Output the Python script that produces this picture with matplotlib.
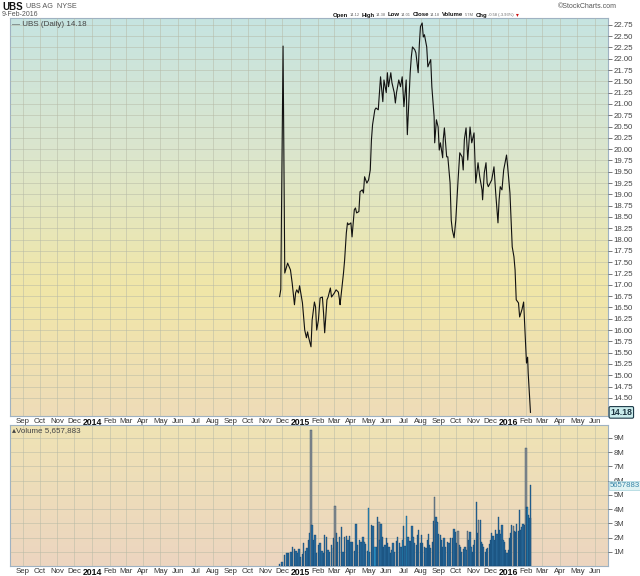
import numpy as np
import pandas as pd
import matplotlib
matplotlib.use("Agg")
import matplotlib.pyplot as plt
from matplotlib.colors import LinearSegmentedColormap
from matplotlib.transforms import blended_transform_factory

plt.rcParams['font.family'] = ['Liberation Sans', 'DejaVu Sans']

# ---------------- data ----------------
price_dates = [
    "2014-11-26", "2014-11-28", "2014-12-02", "2014-12-05", "2014-12-10", "2014-12-15", "2014-12-18",
    "2014-12-22", "2014-12-24", "2014-12-26", "2014-12-29", "2014-12-31", "2015-01-05", "2015-01-07",
    "2015-01-09", "2015-01-12", "2015-01-14", "2015-01-16", "2015-01-20", "2015-01-22", "2015-01-26",
    "2015-01-28", "2015-01-30", "2015-02-02", "2015-02-05", "2015-02-09", "2015-02-11", "2015-02-13",
    "2015-02-17", "2015-02-19", "2015-02-23", "2015-02-25", "2015-03-02", "2015-03-05", "2015-03-09",
    "2015-03-11", "2015-03-12", "2015-03-16", "2015-03-18", "2015-03-20", "2015-03-23", "2015-03-25",
    "2015-03-27", "2015-03-31", "2015-04-02", "2015-04-06", "2015-04-08", "2015-04-10", "2015-04-14",
    "2015-04-16", "2015-04-20", "2015-04-22", "2015-04-24", "2015-04-28", "2015-05-01", "2015-05-04",
    "2015-05-06", "2015-05-08", "2015-05-12", "2015-05-14", "2015-05-18", "2015-05-22", "2015-05-26",
    "2015-05-28", "2015-06-01", "2015-06-03", "2015-06-05", "2015-06-09", "2015-06-11", "2015-06-15",
    "2015-06-17", "2015-06-19", "2015-06-23", "2015-06-26", "2015-06-29", "2015-07-02", "2015-07-06",
    "2015-07-07", "2015-07-08", "2015-07-13", "2015-07-15", "2015-07-17", "2015-07-21", "2015-07-23",
    "2015-07-27", "2015-07-29", "2015-07-31", "2015-08-03", "2015-08-05", "2015-08-07", "2015-08-11",
    "2015-08-13", "2015-08-18", "2015-08-20", "2015-08-24", "2015-08-25", "2015-08-28", "2015-08-31",
    "2015-09-02", "2015-09-04", "2015-09-08", "2015-09-09", "2015-09-11", "2015-09-15", "2015-09-17",
    "2015-09-21", "2015-09-23", "2015-09-25", "2015-09-28", "2015-10-01", "2015-10-05", "2015-10-08",
    "2015-10-12", "2015-10-14", "2015-10-16", "2015-10-19", "2015-10-22", "2015-10-26", "2015-10-29",
    "2015-11-02", "2015-11-05", "2015-11-09", "2015-11-12", "2015-11-16", "2015-11-17", "2015-11-20",
    "2015-11-23", "2015-11-25", "2015-11-27", "2015-12-03", "2015-12-07", "2015-12-10", "2015-12-14",
    "2015-12-16", "2015-12-18", "2015-12-21", "2015-12-24", "2015-12-29", "2015-12-31", "2016-01-04",
    "2016-01-06", "2016-01-08", "2016-01-11", "2016-01-13", "2016-01-15", "2016-01-19", "2016-01-21",
    "2016-01-25", "2016-01-28", "2016-02-02", "2016-02-04", "2016-02-05", "2016-02-09",
]
price_close = [
    16.74, 16.90, 22.28, 17.26, 17.48, 17.33, 17.04,
    16.56, 16.82, 16.89, 16.82, 16.98, 16.60, 16.29,
    16.00, 15.83, 15.96, 15.83, 15.63, 16.22, 16.62,
    16.51, 16.00, 16.22, 16.71, 16.73, 16.38, 15.94,
    16.67, 16.73, 16.93, 16.73, 16.82, 16.89, 16.84,
    16.67, 16.56, 17.04, 17.26, 17.55, 18.15, 18.37,
    18.33, 18.37, 18.06, 18.66, 18.70, 18.59, 18.62,
    19.06, 19.10, 19.03, 19.39, 19.25, 19.32, 19.54,
    20.20, 20.54, 20.87, 20.91, 20.87, 21.60, 21.05,
    21.53, 21.25, 21.69, 21.38, 21.69, 21.47, 21.25,
    21.02, 21.25, 21.53, 21.38, 21.60, 20.94, 21.53,
    20.80, 20.32, 21.69, 22.04, 22.26, 22.20, 22.13,
    21.69, 22.30, 22.71, 22.79, 22.48, 22.53, 22.26,
    21.82, 21.98, 21.38, 20.71, 20.14, 20.65, 20.49,
    19.98, 20.14, 19.81, 20.21, 20.47, 19.83, 19.83,
    19.25, 18.43, 18.21, 18.04, 18.43, 19.32, 19.92,
    19.83, 19.54, 20.21, 20.47, 19.76, 20.49, 20.14,
    20.36, 19.25, 19.70, 19.39, 19.10, 18.88, 19.48,
    19.70, 19.25, 19.17, 19.32, 19.61, 19.03, 18.37,
    18.88, 19.17, 19.10, 19.54, 19.87, 19.61, 19.03,
    18.43, 17.84, 17.62, 17.33, 16.67, 16.60, 16.29,
    16.45, 16.62, 15.27, 15.40, 15.05, 14.18,
]

vol_dates = [
    "2014-11-26", "2014-11-30", "2014-12-05", "2014-12-09", "2014-12-12", "2014-12-16", "2014-12-19",
    "2014-12-22", "2014-12-25", "2014-12-28", "2014-12-30", "2015-01-02", "2015-01-05", "2015-01-07",
    "2015-01-10", "2015-01-13", "2015-01-16", "2015-01-18", "2015-01-20", "2015-01-22", "2015-01-24",
    "2015-01-27", "2015-01-30", "2015-02-02", "2015-02-05", "2015-02-08", "2015-02-11", "2015-02-13",
    "2015-02-16", "2015-02-19", "2015-02-22", "2015-02-25", "2015-02-28", "2015-03-01", "2015-03-03",
    "2015-03-06", "2015-03-08", "2015-03-11", "2015-03-14", "2015-03-17", "2015-03-20", "2015-03-23",
    "2015-03-26", "2015-03-29", "2015-03-31", "2015-04-03", "2015-04-06", "2015-04-09", "2015-04-12",
    "2015-04-15", "2015-04-18", "2015-04-21", "2015-04-23", "2015-04-26", "2015-04-29", "2015-05-01",
    "2015-05-03", "2015-05-06", "2015-05-09", "2015-05-12", "2015-05-15", "2015-05-17", "2015-05-19",
    "2015-05-21", "2015-05-23", "2015-05-25", "2015-05-27", "2015-05-30", "2015-06-01", "2015-06-03",
    "2015-06-06", "2015-06-08", "2015-06-11", "2015-06-13", "2015-06-16", "2015-06-19", "2015-06-21",
    "2015-06-24", "2015-06-27", "2015-06-29", "2015-07-01", "2015-07-04", "2015-07-06", "2015-07-09",
    "2015-07-11", "2015-07-13", "2015-07-16", "2015-07-18", "2015-07-21", "2015-07-24", "2015-07-26",
    "2015-07-28", "2015-07-31", "2015-08-02", "2015-08-04", "2015-08-07", "2015-08-10", "2015-08-12",
    "2015-08-14", "2015-08-16", "2015-08-18", "2015-08-21", "2015-08-23", "2015-08-25", "2015-08-27",
    "2015-08-29", "2015-09-01", "2015-09-04", "2015-09-06", "2015-09-08", "2015-09-10", "2015-09-13",
    "2015-09-16", "2015-09-19", "2015-09-22", "2015-09-25", "2015-09-28", "2015-09-30", "2015-10-02",
    "2015-10-05", "2015-10-07", "2015-10-09", "2015-10-11", "2015-10-14", "2015-10-17", "2015-10-19",
    "2015-10-22", "2015-10-24", "2015-10-26", "2015-10-28", "2015-10-30", "2015-11-01", "2015-11-03",
    "2015-11-06", "2015-11-08", "2015-11-10", "2015-11-13", "2015-11-15", "2015-11-17", "2015-11-19",
    "2015-11-22", "2015-11-24", "2015-11-26", "2015-11-29", "2015-12-01", "2015-12-03", "2015-12-05",
    "2015-12-08", "2015-12-10", "2015-12-12", "2015-12-15", "2015-12-17", "2015-12-19", "2015-12-21",
    "2015-12-23", "2015-12-25", "2015-12-27", "2015-12-30", "2016-01-01", "2016-01-03", "2016-01-05",
    "2016-01-07", "2016-01-10", "2016-01-12", "2016-01-14", "2016-01-16", "2016-01-19", "2016-01-21",
    "2016-01-23", "2016-01-25", "2016-01-27", "2016-01-29", "2016-02-01", "2016-02-02", "2016-02-04",
    "2016-02-05", "2016-02-08", "2016-02-09",
]
vol_millions = [
    0.12, 0.25, 0.77, 0.88, 0.88, 1.00, 1.30,
    1.16, 1.07, 0.93, 1.16, 0.60, 0.83, 1.60,
    1.07, 1.23, 1.82, 2.30, 9.52, 2.88, 1.82,
    2.17, 0.88, 1.47, 1.60, 1.07, 0.93, 2.17,
    2.06, 1.11, 1.00, 1.47, 1.94, 1.23, 4.24,
    2.34, 1.70, 2.06, 2.76, 1.00, 2.06, 2.10,
    1.82, 2.10, 1.70, 1.70, 1.07, 2.93, 1.47,
    1.82, 1.70, 2.06, 1.70, 1.55, 1.07, 4.05,
    1.00, 2.88, 2.81, 1.34, 1.34, 3.42, 3.12,
    1.82, 2.95, 2.06, 1.34, 1.47, 1.94, 1.60,
    1.34, 0.88, 1.11, 1.63, 1.00, 1.77, 2.06,
    1.60, 1.30, 1.82, 2.81, 1.39, 3.50, 2.06,
    1.77, 1.77, 2.81, 2.06, 1.60, 1.47, 2.17,
    2.51, 1.63, 2.17, 1.60, 1.30, 1.23, 1.82,
    2.23, 1.47, 1.23, 1.70, 3.17, 4.83, 3.42,
    3.12, 2.23, 2.17, 1.82, 1.30, 1.94, 1.34,
    1.70, 1.60, 2.00, 2.00, 2.60, 2.39, 1.60,
    2.48, 1.47, 1.30, 1.00, 1.16, 1.30, 1.11,
    2.48, 1.82, 2.39, 1.34, 1.00, 1.47, 1.82,
    4.52, 2.34, 3.26, 3.26, 1.70, 1.55, 1.34,
    1.00, 1.16, 1.23, 1.55, 1.82, 2.34, 2.10,
    1.82, 2.55, 2.23, 3.42, 2.51, 2.23, 2.88,
    1.82, 1.70, 1.11, 0.93, 1.11, 1.94, 2.34,
    2.88, 2.81, 2.48, 2.39, 2.95, 2.48, 3.92,
    2.51, 2.76, 2.93, 2.88, 8.28, 4.17, 4.17,
    3.59, 3.35, 5.66,
]

price_ticks = [14.50, 14.75, 15.00, 15.25, 15.50, 15.75, 16.00, 16.25, 16.50, 16.75, 17.00,
               17.25, 17.50, 17.75, 18.00, 18.25, 18.50, 18.75, 19.00, 19.25, 19.50, 19.75,
               20.00, 20.25, 20.50, 20.75, 21.00, 21.25, 21.50, 21.75, 22.00, 22.25, 22.50, 22.75]
vol_ticks_m = [1, 2, 3, 4, 5, 6, 7, 8, 9]
vol_tick_labels = ["1M", "2M", "3M", "4M", "5M", "6M", "7M", "8M", "9M"]

last_close = 14.18
last_volume = 5657883

header_items = [("Open", "14.12"), ("High", "14.38"), ("Low", "14.01"), ("Close", "14.18"),
                ("Volume", "5.7M"), ("Chg", "-0.58 (-3.93%)")]

# style: bars drawn in grey / light blue
GRAY_BAR_DATES = {"2015-01-20", "2015-03-03", "2015-05-19", "2015-08-25", "2015-10-05",
                  "2015-10-22", "2015-11-10", "2016-01-10", "2016-02-01"}
LIGHT_BAR_DATES = {"2015-05-01", "2015-07-06", "2015-05-12", "2016-02-04", "2015-06-29"}

# ---------------- figure ----------------
W, H = 640, 576
fig = plt.figure(figsize=(W / 100, H / 100), dpi=100)
fig.patch.set_facecolor("white")


def px_rect(x0, y0, x1, y1):
    return [x0 / W, 1 - y1 / H, (x1 - x0) / W, (y1 - y0) / H]


axp = fig.add_axes(px_rect(10, 18, 608, 416))
axv = fig.add_axes(px_rect(10, 425, 608, 566))

xmin, xmax = pd.Timestamp("2013-08-10"), pd.Timestamp("2016-06-24")


def gradient(ax, colors):
    cmap = LinearSegmentedColormap.from_list("g", colors)
    grad = np.linspace(0, 1, 256).reshape(-1, 1)
    ax.imshow(grad, cmap=cmap, aspect="auto", extent=(0, 1, 0, 1), origin="upper",
              transform=ax.transAxes, zorder=0, interpolation="bilinear")


gradient(axp, [(0.0, "#c6e4e1"), (0.35, "#dce6cc"), (0.68, "#f1e7a8"), (1.0, "#eedcb8")])
gradient(axv, [(0.0, "#efe3b4"), (1.0, "#ecd5c0")])

months = pd.date_range("2013-09-01", "2016-06-01", freq="MS")
month_labels = [str(m.year) if m.month == 1 else m.strftime("%b") for m in months]

pdates = pd.to_datetime(price_dates)
vdates = pd.to_datetime(vol_dates)

axp.plot(pdates, price_close, color="#111111", lw=0.8, zorder=3)

bar_colors = []
for d in vol_dates:
    if d in GRAY_BAR_DATES:
        bar_colors.append("#8e8e8e")
    elif d in LIGHT_BAR_DATES:
        bar_colors.append("#2f9ccf")
    else:
        bar_colors.append("#2a6d9e")
axv.bar(vdates, np.array(vol_millions) * 1e6, width=2.4, color=bar_colors,
        edgecolor="#0e3d68", linewidth=0.25, zorder=3, align="center")

for ax in (axp, axv):
    ax.set_xlim(xmin, xmax)
    ax.set_xticks(months)
    ax.set_xticklabels(month_labels)
    ax.grid(True, color="#b5b9a5", lw=0.5, alpha=0.7, zorder=1)
    ax.set_axisbelow(False)
    ax.yaxis.tick_right()
    ax.tick_params(axis="y", labelsize=5.6, colors="#444444", length=3, width=0.5, pad=1)
    ax.tick_params(axis="x", labelsize=5.6, colors="#333333", length=0, pad=1.5)
    for sp in ax.spines.values():
        sp.set_color("#9fb2c2")
        sp.set_linewidth(0.8)
    for lab in ax.get_xticklabels():
        if lab.get_text().isdigit():
            lab.set_fontweight("bold")
            lab.set_fontsize(6.2)
            lab.set_color("#111111")

axp.set_ylim(14.10, 22.90)
axp.set_yticks(price_ticks)
axp.set_yticklabels([f"{v:.2f}" for v in price_ticks])

axv.set_ylim(0, 9.9e6)
axv.set_yticks([v * 1e6 for v in vol_ticks_m])
axv.set_yticklabels(vol_tick_labels)

tp = blended_transform_factory(axp.transAxes, axp.transData)
axp.text(1.004, last_close, f"{last_close:.2f}", transform=tp, fontsize=6.2, fontweight="bold",
         color="#1d3340", va="center", ha="left", zorder=6, clip_on=False,
         bbox=dict(boxstyle="round,pad=0.15", fc="#c9ecec", ec="#1d3a48", lw=0.8))
tv = blended_transform_factory(axv.transAxes, axv.transData)
axv.text(1.003, last_volume, f"{last_volume}", transform=tv, fontsize=5.6,
         color="#3a86a8", va="center", ha="left", zorder=6, clip_on=False,
         bbox=dict(boxstyle="square,pad=0.12", fc="#dff3f3", ec="#a6d3dc", lw=0.5))

axp.text(0.004, 0.993, "\u2014 UBS (Daily) 14.18", transform=axp.transAxes, fontsize=5.8,
         color="#444444", va="top", ha="left", zorder=6)
axv.text(0.004, 0.985, "\u25B4Volume 5,657,883", transform=axv.transAxes, fontsize=5.8,
         color="#444444", va="top", ha="left", zorder=6)


def ftext(x, y, s, **kw):
    return fig.text(x / W, 1 - y / H, s, va="center", **kw)


ftext(2, 7, "UBS", fontsize=7.0, fontweight="bold", color="#111111")
ftext(26, 7, "UBS AG  NYSE", fontsize=5.2, color="#555555")
ftext(2, 15, "9-Feb-2016", fontsize=5.0, color="#555555")
ftext(617, 6, "\u00A9StockCharts.com", fontsize=5.0, color="#555555", ha="right")

renderer = fig.canvas.get_renderer()


def draw_header(scale, x0=333.0, y=15.0):
    made = []
    x = x0
    for key, val in header_items:
        t1 = ftext(x, y, key, fontsize=6.4 * scale, fontweight="bold", color="#111111", ha="left")
        made.append(t1)
        x = t1.get_window_extent(renderer=renderer).x1 + 1.0
        t2 = ftext(x, y, val, fontsize=4.3 * scale, color="#666666", ha="left")
        made.append(t2)
        x = t2.get_window_extent(renderer=renderer).x1 + 2.0
    t3 = ftext(x, y - 0.5, "\u25BE", fontsize=6.0 * scale, color="#cc1111", ha="left")
    made.append(t3)
    x = t3.get_window_extent(renderer=renderer).x1
    return made, x - x0


made, width = draw_header(1.0)
target = 180.0
if width > target:
    for t in made:
        t.remove()
    made, width = draw_header(target / width)

fig.savefig("out.png", dpi=100, facecolor="white")
